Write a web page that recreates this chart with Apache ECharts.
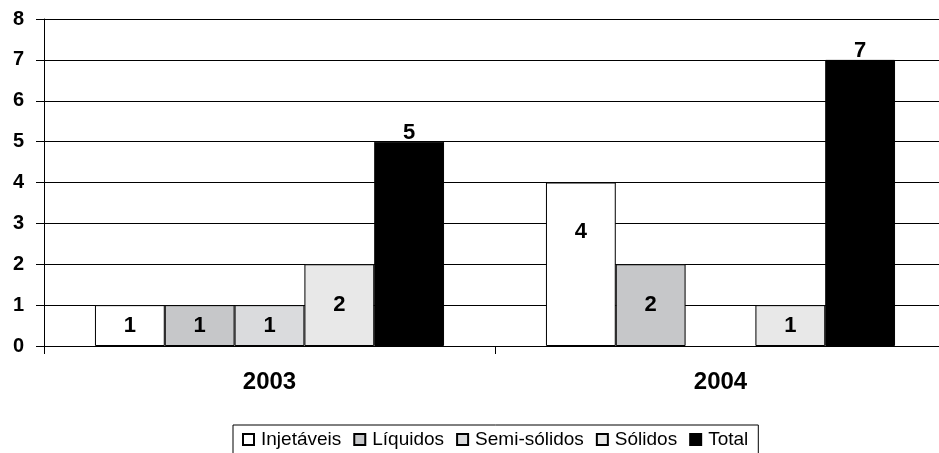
<!DOCTYPE html>
<html>
<head>
<meta charset="utf-8">
<script src="https://cdn.jsdelivr.net/npm/echarts@6/dist/echarts.min.js"></script>
<style>
  html, body { margin: 0; padding: 0; background: #fff; }
  #chart { width: 939px; height: 453px; }
</style>
</head>
<body>
<div id="chart"></div>
<script>
  // dados
  const years = ['2003', '2004'];
  const injetaveis = [1, 4];
  const liquidos = [1, 2];
  const semiSolidos = [1, 0];
  const solidos = [2, 1];
  const total = [5, 7];
  const yTicks = [0, 1, 2, 3, 4, 5, 6, 7, 8];

  const font = 'Liberation Sans, Arial, sans-serif';

  function barSeries(name, values, color, labelPos) {
    return {
      name: name,
      type: 'bar',
      barGap: '0%',
      barCategoryGap: '22.6%',
      itemStyle: { color: color, borderColor: '#000', borderWidth: 1 },
      label: {
        show: true,
        position: labelPos,
        distance: -2,
        color: '#000',
        fontWeight: 'bold',
        fontSize: 22,
        fontFamily: font,
        formatter: p => (p.value ? p.value : '')
      },
      data: values.map(v => (v === 0 ? { value: 0, itemStyle: { borderWidth: 0 } } : v))
    };
  }

  const dom = document.getElementById('chart');
  const chart = echarts.init(dom);

  const series = [
    barSeries('Injetáveis', injetaveis, '#ffffff', 'inside'),
    barSeries('Líquidos', liquidos, '#c6c7c9', 'inside'),
    barSeries('Semi-sólidos', semiSolidos, '#dadbdd', 'inside'),
    barSeries('Sólidos', solidos, '#e8e8e8', 'inside'),
    barSeries('Total', total, '#000000', 'top')
  ];
  // o rótulo "4" fica mais alto no original
  series[0].data[1] = { value: injetaveis[1], label: { offset: [0, -32] } };

  chart.setOption({
    animation: false,
    grid: { left: 44, top: 19, bottom: 107, width: 902, outerBoundsMode: 'none' },
    legend: {
      top: 425,
      left: 233,
      itemWidth: 11,
      itemHeight: 11,
      itemGap: 12,
      icon: 'rect',
      borderColor: '#000',
      borderWidth: 1,
      padding: [5, 10, 6, 9],
      textStyle: { fontSize: 19, fontFamily: font, color: '#000', padding: [0, 0, 0, 2] },
      data: series.map(s => s.name)
    },
    xAxis: {
      type: 'category',
      data: years,
      axisLine: { lineStyle: { color: '#000', width: 1 } },
      axisTick: { show: true, length: 8, lineStyle: { color: '#000' } },
      axisLabel: {
        margin: 24,
        color: '#000',
        fontWeight: 'bold',
        fontSize: 24,
        fontFamily: font
      }
    },
    yAxis: {
      type: 'value',
      min: yTicks[0],
      max: yTicks[yTicks.length - 1],
      interval: 1,
      axisLine: { show: true, lineStyle: { color: '#000', width: 1 } },
      axisTick: { show: true, length: 8, lineStyle: { color: '#000' } },
      splitLine: { lineStyle: { color: '#000', width: 1 } },
      axisLabel: {
        margin: 20,
        color: '#000',
        fontWeight: 'bold',
        fontSize: 20,
        fontFamily: font
      }
    },
    series: series
  });
</script>
</body>
</html>
